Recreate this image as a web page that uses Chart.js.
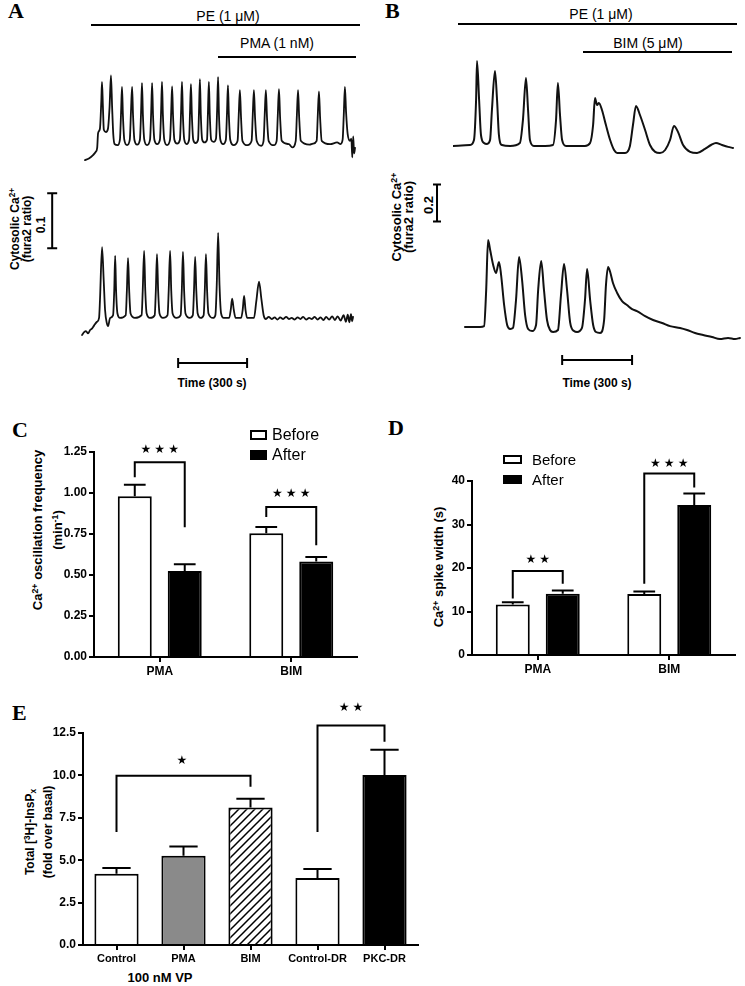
<!DOCTYPE html>
<html>
<head>
<meta charset="utf-8">
<script src="https://cdn.jsdelivr.net/npm/chart.js@4.4.1/dist/chart.umd.min.js"></script>
<style>
  body { margin: 0; background: #fff; }
  #page { position: relative; width: 745px; height: 986px; overflow: hidden; font-family: "Liberation Sans", Arial, sans-serif; color: #000; }
  canvas { position: absolute; }
  .t { position: absolute; white-space: nowrap; transform: translate(-50%, -50%); line-height: 1; }
  .rot { position: absolute; white-space: nowrap; text-align: center; font-weight: bold; transform: translate(-50%, -50%) rotate(-90deg); }
  .letter { position: absolute; font-family: "Liberation Serif", "Times New Roman", serif; font-weight: bold; font-size: 22px; line-height: 22px; }
  .drug { position: absolute; height: 2px; background: #000; }
  sup, sub { font-size: 0.68em; line-height: 0; position: relative; vertical-align: 0; }
  sup { top: -0.5em; }
  sub { top: 0.3em; }
</style>
</head>
<body>
<div id="page">
  <div class="letter" style="left:8px;top:0px">A</div>
  <div class="letter" style="left:385px;top:0px">B</div>
  <div class="letter" style="left:12px;top:419px">C</div>
  <div class="letter" style="left:388px;top:417px">D</div>
  <div class="letter" style="left:12px;top:702px">E</div>

  <div class="t" style="left:228px;top:16px;font-size:14px">PE (1 μM)</div>
  <div class="drug" style="left:91px;top:24px;width:269px"></div>
  <div class="t" style="left:277px;top:43px;font-size:14px">PMA (1 nM)</div>
  <div class="drug" style="left:218px;top:56px;width:138px"></div>

  <div class="t" style="left:601px;top:14px;font-size:14px">PE (1 μM)</div>
  <div class="drug" style="left:458px;top:23px;width:279px"></div>
  <div class="t" style="left:648px;top:43px;font-size:14px">BIM (5 μM)</div>
  <div class="drug" style="left:583px;top:51px;width:149px"></div>

  <div class="rot" style="left:21px;top:229px;font-size:12px;line-height:12px">Cytosolic Ca<sup>2+</sup><br>(fura2 ratio)</div>
  <div class="rot" style="left:41px;top:225px;font-size:12px;line-height:12px">0.1</div>
  <div class="rot" style="left:403px;top:217px;font-size:13px;line-height:12px">Cytosolic Ca<sup>2+</sup><br>(fura2 ratio)</div>
  <div class="rot" style="left:428px;top:205px;font-size:13px;line-height:13px">0.2</div>
  <div class="t" style="left:212px;top:383px;font-size:12px;font-weight:bold">Time (300 s)</div>
  <div class="t" style="left:597px;top:383px;font-size:12px;font-weight:bold">Time (300 s)</div>

  <div class="rot" style="left:48px;top:530px;font-size:13px;line-height:20px">Ca<sup>2+</sup> oscillation frequency<br>(min<sup>-1</sup>)</div>
  <div class="rot" style="left:438px;top:567px;font-size:13px;line-height:13px">Ca<sup>2+</sup> spike width (s)</div>
  <div class="rot" style="left:39px;top:832px;font-size:12px;line-height:18px">Total [<sup>3</sup>H]-InsP<sub>x</sub><br>(fold over basal)</div>
  <div class="t" style="left:160px;top:977px;font-size:13px;font-weight:bold">100 nM VP</div>

  <canvas id="a1" width="282" height="105" style="left:82px;top:60px"></canvas>
  <canvas id="a2" width="325" height="195" style="left:40px;top:185px"></canvas>
  <canvas id="b1" width="290" height="105" style="left:453px;top:55px"></canvas>
  <canvas id="b2" width="323" height="195" style="left:420px;top:175px"></canvas>
  <canvas id="c" width="321" height="260" style="left:44px;top:422px"></canvas>
  <canvas id="d" width="320" height="240" style="left:422px;top:440px"></canvas>
  <canvas id="e" width="392" height="275" style="left:33px;top:695px"></canvas>
</div>
<script>
// traces: [time (s), fura2 ratio]
const traceA1 = [
  [13,0.823],[30,0.826],[48,0.832],[60,0.838],[66,0.845],[70,0.872],[78,0.880],[84,0.930],[87,0.965],[91,0.920],[95,0.878],[104,0.874],[113,0.880],
  [120,0.920],[126,0.977],[131,0.920],[136,0.870],[142,0.852],[155,0.850],
  [165,0.860],[170,0.910],[174,0.956],[178,0.905],[184,0.860],[196,0.850],
  [208,0.860],[213,0.910],[218,0.956],[222,0.905],[228,0.860],[240,0.851],
  [252,0.860],[257,0.910],[261,0.963],[265,0.905],[271,0.860],[283,0.850],
  [296,0.860],[301,0.910],[305,0.963],[309,0.905],[315,0.860],[327,0.852],
  [339,0.860],[344,0.910],[348,0.965],[352,0.905],[358,0.860],[370,0.850],
  [383,0.860],[388,0.910],[392,0.957],[396,0.905],[402,0.860],[414,0.853],
  [426,0.860],[431,0.910],[435,0.965],[439,0.905],[445,0.860],[455,0.852],
  [466,0.860],[470,0.910],[474,0.961],[478,0.905],[484,0.860],[494,0.854],
  [505,0.860],[509,0.910],[513,0.970],[517,0.905],[523,0.860],[533,0.855],
  [544,0.860],[548,0.910],[552,0.965],[556,0.905],[562,0.860],[573,0.856],
  [583,0.862],[588,0.915],[592,0.974],[596,0.905],[602,0.860],[614,0.852],
  [626,0.860],[631,0.910],[635,0.959],[639,0.905],[645,0.860],[660,0.850],
  [677,0.858],[682,0.905],[687,0.950],[692,0.900],[698,0.858],[720,0.850],
  [738,0.858],[743,0.905],[748,0.950],[753,0.900],[760,0.858],[780,0.849],
  [790,0.858],[795,0.905],[800,0.950],[805,0.900],[812,0.858],[835,0.850],
  [847,0.858],[852,0.905],[857,0.952],[862,0.900],[869,0.858],[900,0.852],[915,0.846],
  [930,0.858],[935,0.905],[940,0.950],[945,0.900],[952,0.858],[990,0.851],[1005,0.853],
  [1021,0.858],[1026,0.905],[1031,0.948],[1036,0.900],[1043,0.858],[1080,0.852],[1110,0.855],[1125,0.852],
  [1134,0.860],[1139,0.905],[1144,0.956],[1149,0.910],[1156,0.870],[1166,0.858],[1172,0.862],[1176,0.828],[1180,0.866],[1184,0.835],[1188,0.845]
];
const traceA2 = [
  [0,0.769],[9,0.774],[17,0.776],[26,0.772],[35,0.778],[44,0.781],[52,0.786],[65,0.793],[74,0.800],
  [78,0.833],[87,0.929],[94,0.870],[100,0.815],[108,0.790],[113,0.785],[122,0.800],
  [135,0.805],[140,0.850],[144,0.913],[148,0.850],[154,0.808],[165,0.800],
  [190,0.805],[195,0.850],[200,0.909],[205,0.850],[211,0.808],[230,0.800],
  [259,0.805],[264,0.850],[270,0.922],[275,0.850],[281,0.808],[295,0.800],
  [316,0.805],[321,0.850],[326,0.916],[331,0.850],[337,0.808],[352,0.800],
  [372,0.805],[377,0.850],[383,0.922],[388,0.850],[394,0.808],[410,0.800],
  [429,0.805],[434,0.850],[439,0.920],[444,0.850],[450,0.808],[468,0.800],
  [482,0.805],[487,0.850],[492,0.911],[497,0.850],[503,0.808],[516,0.800],
  [529,0.805],[534,0.850],[539,0.916],[544,0.850],[550,0.808],[570,0.800],
  [580,0.805],[586,0.860],[592,0.955],[598,0.860],[605,0.808],[616,0.800],
  [640,0.800],[647,0.815],[653,0.835],[660,0.815],[668,0.800],
  [692,0.800],[699,0.815],[705,0.840],[711,0.815],[718,0.800],
  [748,0.800],[758,0.830],[770,0.866],[780,0.835],[790,0.805],
  [800,0.798],[812,0.802],[825,0.798],[838,0.801],[850,0.797],[862,0.801],[875,0.798],[888,0.802],[900,0.798],[912,0.800],
  [925,0.797],[938,0.801],[950,0.798],[962,0.802],[975,0.797],[988,0.800],[1000,0.798],[1012,0.802],[1025,0.797],[1038,0.801],
  [1050,0.796],[1062,0.802],[1075,0.797],[1088,0.803],[1100,0.796],[1112,0.803],[1125,0.795],[1138,0.805],[1148,0.793],[1156,0.806],
  [1163,0.792],[1170,0.807],[1175,0.794],[1179,0.802]
];
const traceB1 = [
  [0,0.700],[73,0.705],[90,0.732],[99,0.948],[103,1.159],[112,0.948],[120,0.759],[133,0.716],[146,0.711],
  [159,0.732],[167,0.894],[180,1.105],[189,0.948],[197,0.759],[210,0.705],[245,0.700],
  [287,0.716],[300,0.840],[313,1.067],[322,0.894],[330,0.732],[347,0.700],[395,0.700],
  [429,0.705],[442,0.840],[450,1.040],[459,0.867],[468,0.732],[485,0.700],[566,0.700],
  [588,0.716],[601,0.813],[609,0.959],[618,0.921],[626,0.932],[639,0.894],[656,0.813],[674,0.732],[691,0.678],[704,0.662],[738,0.662],
  [759,0.700],[772,0.813],[785,0.916],[802,0.867],[824,0.786],[845,0.705],[867,0.668],[888,0.662],
  [910,0.678],[931,0.732],[948,0.808],[965,0.776],[987,0.705],[1017,0.668],[1047,0.662],
  [1081,0.684],[1107,0.705],[1128,0.716],[1154,0.705],[1180,0.695],[1201,0.689]
];
const traceB2 = [
  [51,0.700],[116,0.700],[133,0.705],[142,0.900],[150,1.170],[159,1.116],[172,1.035],[184,0.992],[197,1.051],[206,0.981],[219,0.819],[232,0.711],[245,0.689],
  [257,0.695],[270,0.846],[283,1.078],[296,0.954],[309,0.765],[322,0.689],[339,0.678],
  [356,0.711],[365,0.900],[378,1.056],[390,0.900],[403,0.738],[416,0.684],[429,0.673],
  [450,0.684],[463,0.873],[476,1.040],[489,0.900],[502,0.727],[519,0.678],[532,0.673],
  [553,0.695],[566,0.846],[575,1.013],[588,0.846],[601,0.711],[613,0.673],[631,0.668],
  [648,0.738],[656,0.927],[665,1.024],[674,0.997],[686,0.938],[704,0.884],[725,0.840],[746,0.819],[768,0.797],[789,0.786],
  [824,0.759],[858,0.738],[897,0.722],[931,0.705],[974,0.695],[1004,0.684],[1038,0.668],[1073,0.657],[1111,0.646],[1145,0.635],
  [1180,0.641],[1210,0.635],[1231,0.641]
];

// C: oscillation frequency (min-1)
const groupsCD = ['PMA', 'BIM'];
const freqBefore = [0.98, 0.755];
const freqBeforeErr = [0.07, 0.037];
const freqAfter = [0.525, 0.583];
const freqAfterErr = [0.04, 0.027];
// D: spike width (s)
const widthBefore = [11.6, 14.0];
const widthBeforeErr = [0.5, 0.6];
const widthAfter = [14.1, 34.5];
const widthAfterErr = [0.7, 2.6];
// E: total [3H]-InsPx, fold over basal
const groupsE = ['Control', 'PMA', 'BIM', 'Control-DR', 'PKC-DR'];
const insP = [4.2, 5.26, 8.1, 3.95, 10.03];
const insPErr = [0.34, 0.55, 0.52, 0.53, 1.48];

Chart.defaults.font.family = '"Liberation Sans", Arial, sans-serif';
Chart.defaults.color = '#000';

const scaleBars = {
  id: 'scaleBars',
  afterDraw(chart, args, o) {
    if (!o.show) return;
    const { x, y } = chart.scales;
    const ctx = chart.ctx;
    ctx.save();
    ctx.strokeStyle = '#000';
    ctx.lineWidth = 2;
    ctx.beginPath();
    const vx = x.getPixelForValue(o.ratioAt);
    const vy0 = y.getPixelForValue(o.ratioFrom), vy1 = y.getPixelForValue(o.ratioFrom + o.ratio);
    ctx.moveTo(vx, vy0); ctx.lineTo(vx, vy1);
    ctx.moveTo(vx - o.cap, vy0); ctx.lineTo(vx + o.cap, vy0);
    ctx.moveTo(vx - o.cap, vy1); ctx.lineTo(vx + o.cap, vy1);
    const hy = y.getPixelForValue(o.timeAt);
    const hx0 = x.getPixelForValue(o.timeFrom), hx1 = x.getPixelForValue(o.timeFrom + o.time);
    ctx.moveTo(hx0, hy); ctx.lineTo(hx1, hy);
    ctx.moveTo(hx0, hy - 5); ctx.lineTo(hx0, hy + 5);
    ctx.moveTo(hx1, hy - 5); ctx.lineTo(hx1, hy + 5);
    ctx.stroke();
    ctx.restore();
  }
};

function trace(id, pts, xr, yr, width, bars) {
  return new Chart(document.getElementById(id), {
    type: 'line',
    data: { datasets: [{
      data: pts.map(([x, y]) => ({ x, y })),
      borderColor: '#111', borderWidth: width, pointRadius: 0,
      cubicInterpolationMode: 'monotone', borderJoinStyle: 'round', borderCapStyle: 'round'
    }] },
    options: {
      responsive: false, animation: false,
      layout: { padding: 0 },
      plugins: { legend: { display: false }, tooltip: { enabled: false }, scaleBars: bars || { show: false } },
      scales: {
        x: { type: 'linear', display: false, min: xr[0], max: xr[1] },
        y: { display: false, min: yr[0], max: yr[1] }
      }
    },
    plugins: [scaleBars]
  });
}

trace('a1', traceA1, [0, 1227], [0.814, 1.005], 1.8);
trace('a2', traceA2, [-183, 1231], [0.687, 1.042], 1.8,
  { show: true, ratioAt: -130, ratioFrom: 0.927, ratio: 0.1, cap: 5, timeAt: 0.718, timeFrom: 418, time: 300 });
trace('b1', traceB1, [0, 1244], [0.624, 1.191], 2);
trace('b2', traceB2, [-142, 1244], [0.468, 1.521], 2,
  { show: true, ratioAt: -69, ratioFrom: 1.27, ratio: 0.2, cap: 4, timeAt: 0.522, timeFrom: 468, time: 300 });

const errorBars = {
  id: 'errorBars',
  afterDatasetsDraw(chart) {
    const ctx = chart.ctx, y = chart.scales.y;
    chart.data.datasets.forEach((ds, i) => {
      if (!ds.errors) return;
      chart.getDatasetMeta(i).data.forEach((bar, j) => {
        const top = y.getPixelForValue(ds.data[j] + ds.errors[j]);
        const half = bar.width * 0.32;
        ctx.save();
        ctx.strokeStyle = '#000';
        ctx.lineWidth = 2;
        ctx.beginPath();
        ctx.moveTo(bar.x, bar.y); ctx.lineTo(bar.x, top);
        ctx.moveTo(bar.x - half, top); ctx.lineTo(bar.x + half, top);
        ctx.stroke();
        ctx.restore();
      });
    });
  }
};

const brackets = {
  id: 'brackets',
  afterDatasetsDraw(chart, args, o) {
    const ctx = chart.ctx, y = chart.scales.y;
    (o.items || []).forEach(b => {
      const xa = chart.getDatasetMeta(b.from[1]).data[b.from[0]].x;
      const xb = chart.getDatasetMeta(b.to[1]).data[b.to[0]].x;
      const yt = y.getPixelForValue(b.top);
      ctx.save();
      ctx.strokeStyle = '#000';
      ctx.lineWidth = 2;
      ctx.lineJoin = 'miter';
      ctx.beginPath();
      ctx.moveTo(xa, y.getPixelForValue(b.left));
      ctx.lineTo(xa, yt);
      ctx.lineTo(xb, yt);
      ctx.lineTo(xb, y.getPixelForValue(b.right));
      ctx.stroke();
      ctx.fillStyle = '#000';
      ctx.font = '12px "DejaVu Sans"';
      ctx.textAlign = 'center';
      ctx.textBaseline = 'middle';
      if ('letterSpacing' in ctx) ctx.letterSpacing = '3px';
      ctx.fillText(b.label, (xa + xb) / 2 + (b.label.length > 1 ? 1.5 : 0), y.getPixelForValue(b.star));
      ctx.restore();
    });
  }
};

const boxLegend = {
  id: 'boxLegend',
  afterDraw(chart, args, o) {
    if (!o.show) return;
    const ctx = chart.ctx;
    chart.data.datasets.forEach((ds, i) => {
      const top = o.y + i * o.gap;
      ctx.save();
      ctx.fillStyle = ds.backgroundColor;
      ctx.fillRect(o.x, top, o.w, o.h);
      ctx.strokeStyle = '#000';
      ctx.lineWidth = 2;
      ctx.strokeRect(o.x + 1, top + 1, o.w - 2, o.h - 2);
      ctx.fillStyle = '#000';
      ctx.font = o.font;
      ctx.textBaseline = 'middle';
      ctx.fillText(ds.label, o.x + o.w + o.pad, top + o.h / 2 + 1);
      ctx.restore();
    });
  }
};

function axis(extra) {
  return Object.assign({
    grid: { display: true, drawOnChartArea: false, offset: false, tickLength: 5, color: '#000', lineWidth: 2 },
    border: { display: true, color: '#000', width: 2 },
  }, extra);
}

function barChart(id, labels, datasets, ymax, step, dec, pad, plugOpts, xFont) {
  return new Chart(document.getElementById(id), {
    type: 'bar',
    data: { labels, datasets },
    options: {
      responsive: false, animation: false,
      layout: { padding: pad },
      plugins: Object.assign({ legend: { display: false }, tooltip: { enabled: false } }, plugOpts),
      scales: {
        x: axis({
          ticks: { color: '#000', padding: 2, maxRotation: 0, minRotation: 0, autoSkip: false, font: { size: xFont || 12, weight: 'bold' } },
          afterFit: s => { s.height = 25; }
        }),
        y: axis({
          min: 0, max: ymax,
          ticks: { stepSize: step, color: '#000', padding: 2, font: { size: 12, weight: 'bold' }, callback: v => v.toFixed(dec) },
          afterFit: s => { s.width = 50; }
        })
      }
    },
    plugins: [errorBars, brackets, boxLegend]
  });
}

function pair(before, beforeErr, after, afterErr) {
  const common = { borderColor: '#000', borderWidth: 2, categoryPercentage: 0.76, barPercentage: 0.68 };
  return [
    Object.assign({ label: 'Before', data: before, errors: beforeErr, backgroundColor: '#fff' }, common),
    Object.assign({ label: 'After', data: after, errors: afterErr, backgroundColor: '#000' }, common)
  ];
}

barChart('c', groupsCD, pair(freqBefore, freqBeforeErr, freqAfter, freqAfterErr), 1.25, 0.25, 2,
  { top: 30, right: 8, left: 0, bottom: 0 },
  {
    brackets: { items: [
      { from: [0, 0], to: [0, 1], left: 1.096, top: 1.187, right: 0.791, star: 1.262, label: '★★★' },
      { from: [1, 0], to: [1, 1], left: 0.854, top: 0.915, right: 0.681, star: 0.996, label: '★★★' }
    ] },
    boxLegend: { show: true, x: 206, y: 8, gap: 20, w: 17, h: 10, pad: 5, font: '16px "Liberation Sans"' }
  });

barChart('d', groupsCD, pair(widthBefore, widthBeforeErr, widthAfter, widthAfterErr), 40, 10, 0,
  { top: 41, right: 7, left: 0, bottom: 0 },
  {
    brackets: { items: [
      { from: [0, 0], to: [0, 1], left: 13.0, top: 19.3, right: 16.4, star: 21.9, label: '★★' },
      { from: [1, 0], to: [1, 1], left: 16.4, top: 41.7, right: 38.5, star: 44.0, label: '★★★' }
    ] },
    boxLegend: { show: true, x: 81, y: 15, gap: 20, w: 19, h: 9, pad: 10, font: '15px "Liberation Sans"' }
  });

function hatch() {
  const c = document.createElement('canvas');
  c.width = 8; c.height = 8;
  const g = c.getContext('2d');
  g.fillStyle = '#fff';
  g.fillRect(0, 0, 8, 8);
  g.strokeStyle = '#000';
  g.lineWidth = 1.5;
  g.beginPath();
  g.moveTo(-1, 9); g.lineTo(9, -1);
  g.moveTo(-3, 3); g.lineTo(3, -3);
  g.moveTo(5, 11); g.lineTo(11, 5);
  g.stroke();
  return g.createPattern(c, 'repeat');
}

barChart('e', groupsE, [{
  label: 'VP', data: insP, errors: insPErr,
  backgroundColor: ['#fff', '#8a8a8a', hatch(), '#fff', '#000'],
  borderColor: '#000', borderWidth: 2, categoryPercentage: 1, barPercentage: 0.66
}], 12.5, 2.5, 1,
  { top: 38, right: 7, left: 0, bottom: 0 },
  {
    brackets: { items: [
      { from: [0, 0], to: [2, 0], left: 6.67, top: 9.98, right: 9.33, star: 10.87, label: '★' },
      { from: [3, 0], to: [4, 0], left: 6.67, top: 12.94, right: 11.99, star: 14.0, label: '★★' }
    ] },
    boxLegend: { show: false }
  }, 11);
</script>
</body>
</html>
